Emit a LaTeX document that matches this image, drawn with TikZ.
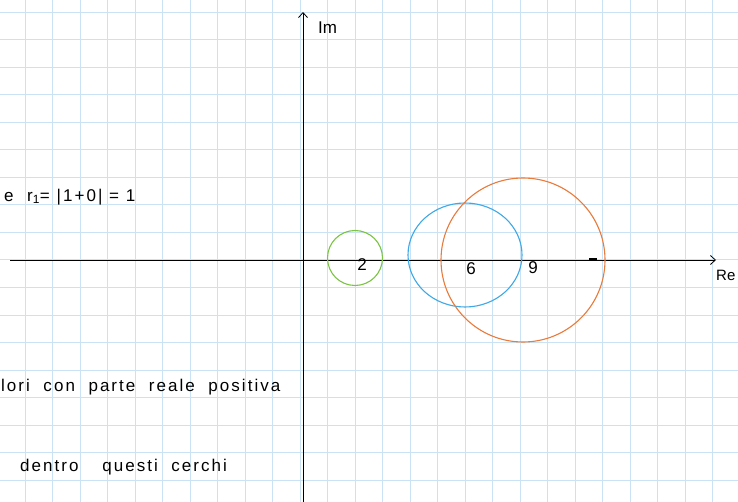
\documentclass[tikz,border=0pt]{standalone}
\usepackage{fontspec}
\setmainfont{Liberation Sans}
\usepackage{tikz}
\usetikzlibrary{positioning, arrows.meta, shapes.geometric}
\definecolor{gridblue}{HTML}{C9E3F5}
\definecolor{ringgreen}{HTML}{7CC443}
\definecolor{ringblue}{HTML}{3FA8E6}
\definecolor{ringorange}{HTML}{E97B3C}

\begin{document}
\begin{tikzpicture}[x=1pt, y=-1pt,
    handtext/.style={font=\fontsize{17}{19}\selectfont, inner sep=0pt},
    widetext/.style={handtext, font=\fontsize{17}{19}\selectfont\addfontfeature{LetterSpace=12}},
    axisline/.style={line width=0.8pt, -{Straight Barb[length=5pt, width=9pt]}},
    ring/.style={line width=1.1pt, inner sep=0pt}]
  \useasboundingbox (0,0) rectangle (738,502);
  \fill[white] (0,0) rectangle (738,502);
  \foreach \k in {0,...,25}
    \draw[gridblue, line width=1pt] (25+27.5*\k,0) -- (25+27.5*\k,502);
  \foreach \k in {0,...,17}
    \draw[gridblue, line width=1pt] (0,12.5+27.5*\k) -- (738,12.5+27.5*\k);

  \coordinate (xstart) at (10,260);
  \coordinate (xend) at (716,260);
  \coordinate (ystart) at (303,502);
  \coordinate (yend) at (303,12);
  \draw[axisline] (xstart) -- (xend);
  \draw[axisline] (ystart) -- (yend);
  \draw[line width=1.2pt] (589,259) -- (597,259);

  \node[handtext, anchor=west] (imlabel) at (318,28) {Im};
  \node[handtext, font=\fontsize{15}{17}\selectfont, anchor=west] (relabel) at (716,275) {Re};

  \node[ring, circle, draw=ringgreen, minimum size=55pt] (ctwo) at (355,258) {};
  \node[ring, ellipse, draw=ringblue, minimum width=114pt, minimum height=104pt] (csix) at (465,255) {};
  \node[ring, circle, draw=ringorange, minimum size=164pt] (cnine) at (523,260) {};

  \node[handtext] (ltwo) at (362,265) {2};
  \node[handtext] (lsix) at (471,269) {6};
  \node[handtext] (lnine) at (533,268) {9};

  \node[widetext, anchor=west] (radius) at (4,197) {e \ r\textsubscript{1}= |1+0| = 1};
  \node[widetext, anchor=west] (positive) at (1,387) {lori \ con \ parte \ reale \ positiva};
  \node[widetext, anchor=west] (inside) at (20,467) {dentro \quad questi \ cerchi};
\end{tikzpicture}
\end{document}
